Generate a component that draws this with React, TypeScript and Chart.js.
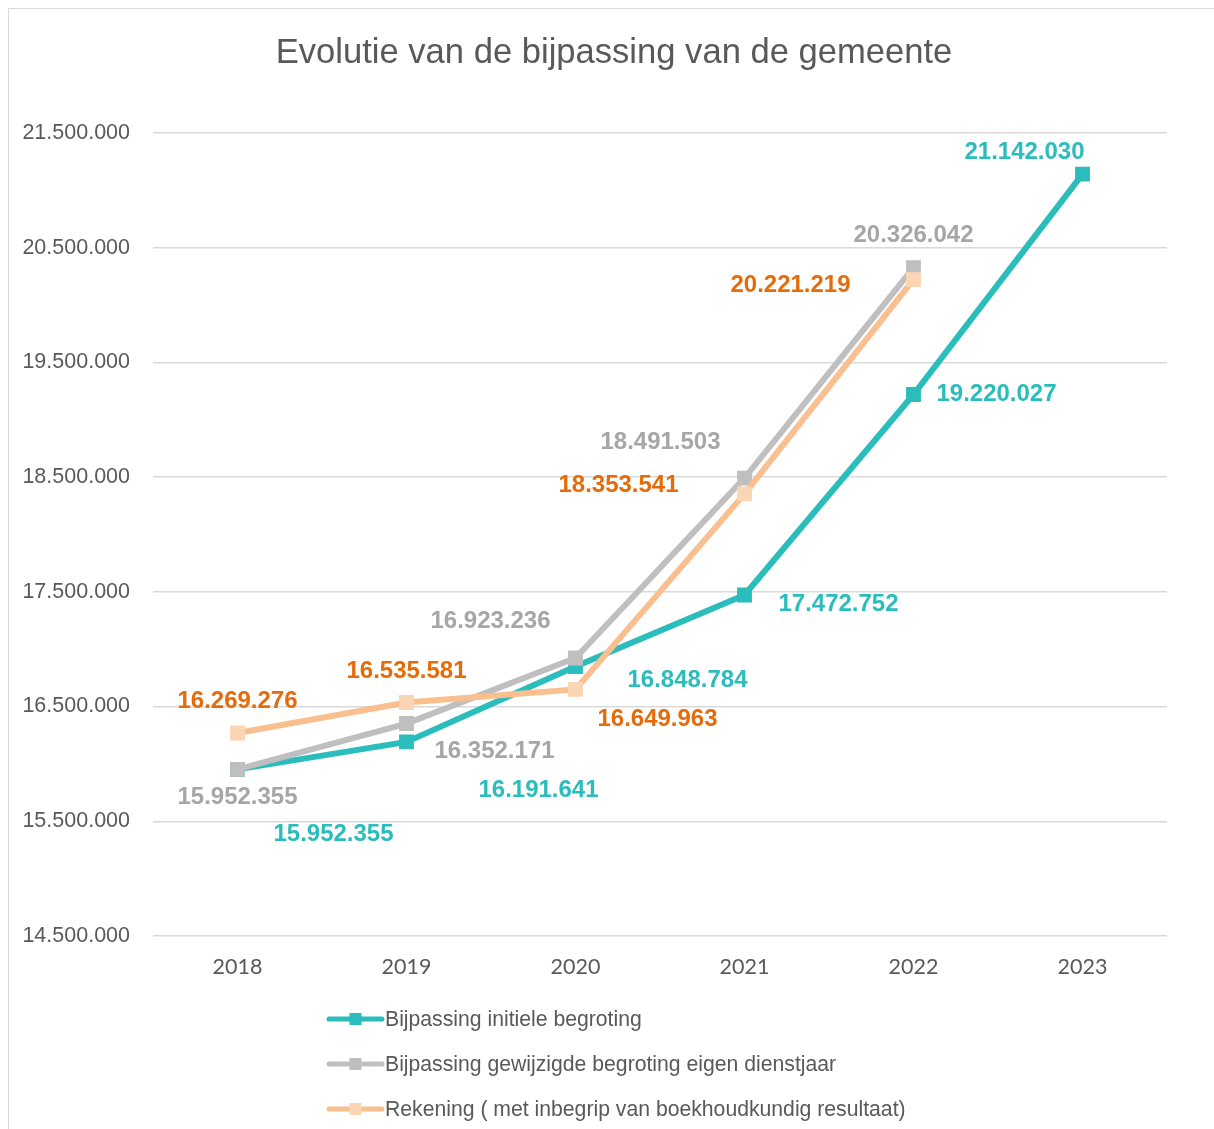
import React, { useEffect, useRef } from "react";
import { Chart, registerables } from "chart.js";

Chart.register(...registerables);

const years = ["2018", "2019", "2020", "2021", "2022", "2023"];
const initieleBegroting = [15952355, 16191641, 16848784, 17472752, 19220027, 21142030];
const gewijzigdeBegroting = [15952355, 16352171, 16923236, 18491503, 20326042, null];
const rekening = [16269276, 16535581, 16649963, 18353541, 20221219, null];

const seriesNames = [
  "Bijpassing initiele begroting",
  "Bijpassing gewijzigde begroting eigen dienstjaar",
  "Rekening ( met inbegrip van boekhoudkundig resultaat)",
];
const chartTitle = "Evolutie van de bijpassing van de gemeente";

// label offsets (dx, dy) relative to each point, per series
const labelOffsets: number[][][] = [
  [[96, 65], [132, 48], [112, 14], [94, 9], [83, 0], [-58, -22]],
  [[0, 28], [88, 28], [-85, -37], [-84, -36], [0, -32], [0, 0]],
  [[0, -32], [0, -31], [82, 30], [-126, -9], [-123, 6], [0, 0]],
];

const lineColors = ["#2BBCBC", "#BFBFBF", "#FABF8F"];
const markerColors = ["#2BBCBC", "#BFBFBF", "#FCD5B4"];
const labelColors = ["#2BBCBC", "#A6A6A6", "#E46C0A"];

const fmt = (v: number) => Math.round(v).toString().replace(/\B(?=(\d{3})+(?!\d))/g, ".");

const SANS = "'Liberation Sans', Arial, sans-serif";

const overlayPlugin = {
  id: "overlay",
  afterDatasetsDraw(chart: any) {
    const ctx = chart.ctx;
    ctx.save();
    ctx.font = `bold 24px ${SANS}`;
    ctx.textAlign = "center";
    ctx.textBaseline = "middle";
    chart.data.datasets.forEach((ds: any, i: number) => {
      const meta = chart.getDatasetMeta(i);
      ds.data.forEach((v: number | null, j: number) => {
        if (v === null || v === undefined) return;
        const pt = meta.data[j];
        const off = labelOffsets[i][j];
        ctx.fillStyle = labelColors[i];
        ctx.fillText(fmt(v), pt.x + off[0], pt.y + off[1]);
      });
    });
    ctx.restore();
  },
  afterDraw(chart: any) {
    const ctx = chart.ctx;
    ctx.save();
    // title
    ctx.font = `34.6px ${SANS}`;
    ctx.fillStyle = "#595959";
    ctx.textAlign = "center";
    ctx.textBaseline = "middle";
    ctx.fillText(chartTitle, 605, 44);
    // legend
    const x0 = 317;
    const x1 = 376;
    chart.data.datasets.forEach((ds: any, i: number) => {
      const y = 1010 + i * 45;
      ctx.strokeStyle = lineColors[i];
      ctx.lineWidth = 5;
      ctx.lineCap = "round";
      ctx.beginPath();
      ctx.moveTo(x0 + 3, y);
      ctx.lineTo(x1 - 3, y);
      ctx.stroke();
      ctx.fillStyle = markerColors[i];
      ctx.fillRect((x0 + x1) / 2 - 6, y - 6, 12, 12);
      ctx.font = `21.2px ${SANS}`;
      ctx.fillStyle = "#595959";
      ctx.textAlign = "left";
      ctx.textBaseline = "middle";
      ctx.fillText(ds.label, x1, y + 1);
    });
    ctx.restore();
  },
};

export default function App() {
  const ref = useRef<HTMLCanvasElement | null>(null);
  useEffect(() => {
    if (!ref.current) return;
    const seriesData = [initieleBegroting, gewijzigdeBegroting, rekening];
    const chart = new Chart(ref.current, {
      type: "line",
      data: {
        labels: years,
        datasets: seriesData.map((d, i) => ({
          label: seriesNames[i],
          data: d,
          borderColor: lineColors[i],
          backgroundColor: markerColors[i],
          pointBackgroundColor: markerColors[i],
          pointBorderWidth: 0,
          pointStyle: "rect",
          pointRadius: 10.5,
          borderWidth: 6,
          tension: 0,
          fill: false,
          order: 2 - i,
        })),
      },
      options: {
        responsive: false,
        animation: false,
        layout: { padding: { top: 124, left: 0, right: 47, bottom: 153 } },
        plugins: {
          legend: { display: false },
          title: { display: false },
          tooltip: { enabled: false },
        },
        scales: {
          x: {
            type: "category",
            offset: true,
            grid: { display: false, drawTicks: false },
            border: { display: false },
            ticks: {
              color: "#595959",
              font: { family: "Lato, 'Open Sans', sans-serif", size: 21.5 },
              padding: 18,
              maxRotation: 0,
            },
            afterFit: (s: any) => {
              s.height = 40;
            },
          },
          y: {
            min: 14500000,
            max: 21500000,
            grid: { color: "#D9D9D9", lineWidth: 1.4, drawTicks: false },
            border: { display: false },
            ticks: {
              stepSize: 1000000,
              color: "#595959",
              font: { family: SANS, size: 21.5 },
              padding: 23,
              callback: (v: any) => fmt(Number(v)),
            },
            afterFit: (s: any) => {
              s.width = 144;
            },
          },
        },
      },
      plugins: [overlayPlugin],
    });
    return () => chart.destroy();
  }, []);

  return (
    <div
      style={{
        position: "fixed",
        left: 8,
        top: 8,
        boxSizing: "border-box",
        width: 1206,
        height: 1121,
        borderTop: "1px solid #D9D9D9",
        borderLeft: "1px solid #D9D9D9",
        background: "#fff",
        overflow: "hidden",
      }}
    >
      <canvas ref={ref} width={1205} height={1120} style={{ display: "block" }} />
    </div>
  );
}
